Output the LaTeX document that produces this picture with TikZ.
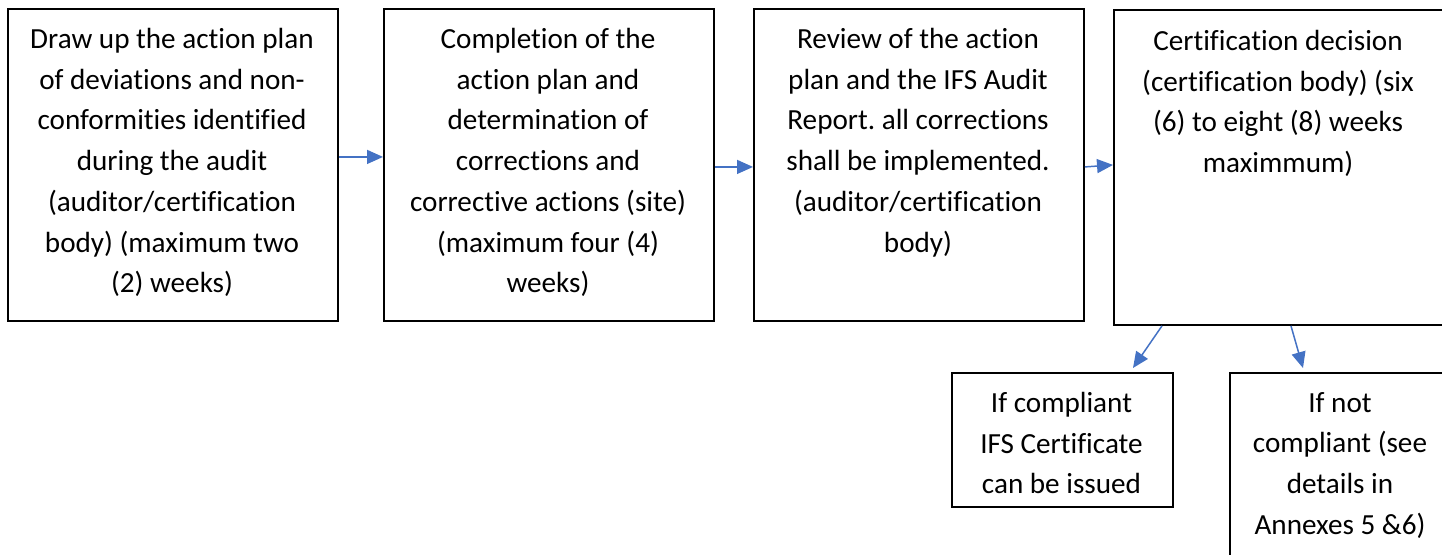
\documentclass[tikz,border=0pt]{standalone}
\usepackage{fontspec}
\setmainfont{Carlito}[Ligatures=NoCommon]
\usetikzlibrary{arrows.meta}
\definecolor{flowblue}{RGB}{68,114,196}
\frenchspacing

\begin{document}
\begin{tikzpicture}[x=0.02cm,y=-0.02cm,
  stepbox/.style={draw,line width=1.1pt,anchor=north west,inner sep=0pt},
  steptext/.style={anchor=north,yshift=11pt,align=center,inner sep=0pt,
    font=\fontsize{16.6}{23.2}\selectfont,execute at begin node=\strut},
  flow/.style={flowblue,line width=0.85pt,-{Triangle[length=0.32cm,width=0.28cm]}}]

  \useasboundingbox (0,0) rectangle (1442,554);
  \clip (0,0) rectangle (1442,554);

  \node[stepbox,minimum width=6.6cm,minimum height=6.24cm] (b1) at (7,8) {};
  \node[stepbox,minimum width=6.6cm,minimum height=6.24cm] (b2) at (383,8) {};
  \node[stepbox,minimum width=6.6cm,minimum height=6.24cm] (b3) at (753,8) {};
  \node[stepbox,minimum width=6.74cm,minimum height=6.3cm] (b4) at (1113,9) {};
  \node[stepbox,minimum width=4.42cm,minimum height=2.68cm] (b5) at (951,372) {};
  \node[stepbox,minimum width=4.8cm,minimum height=4cm] (b6) at (1229,372) {};

  \node[steptext] (t1) at (172,47) {Draw up the action plan\\of deviations and non-\\conformities identified\\during the audit\\(auditor/certification\\body) (maximum two\\(2) weeks)};
  \node[steptext] (t2) at (548,47) {Completion of the\\action plan and\\determination of\\corrections and\\corrective actions (site)\\(maximum four (4)\\weeks)};
  \node[steptext] (t3) at (918,47) {Review of the action\\plan and the IFS Audit\\Report. all corrections\\shall be implemented.\\(auditor/certification\\body)};
  \node[steptext] (t4) at (1278,49) {Certification decision\\(certification body) (six\\(6) to eight (8) weeks\\maximmum)};
  \node[steptext] (t5) at (1061.5,411) {If compliant\\IFS Certificate\\can be issued};
  \node[steptext] (t6) at (1340,411) {If not\\compliant (see\\details in\\Annexes 5 \&6)};

  \draw[flow] ([yshift=0.16cm]b1.east) -- ([yshift=0.16cm]b2.west);
  \draw[flow] ([yshift=-0.04cm]b2.east) -- ([yshift=-0.04cm]b3.west);
  \draw[flow] ([yshift=-0.04cm]b3.east) -- (b3.east -| b4.west);
  \draw[flow] ([xshift=0.98cm]b4.south west) -- ([xshift=3.64cm,yshift=0.08cm]b5.north west);
  \draw[flow] ([xshift=3.56cm]b4.south west) -- ([xshift=1.48cm,yshift=0.08cm]b6.north west);

\end{tikzpicture}
\end{document}
